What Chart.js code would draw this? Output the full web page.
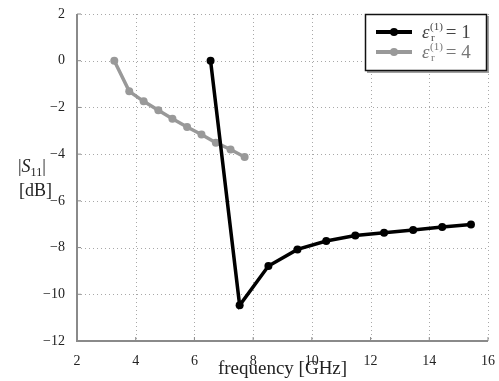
<!DOCTYPE html>
<html>
<head>
<meta charset="utf-8">
<script src="https://cdn.jsdelivr.net/npm/chart.js@4.4.1/dist/chart.umd.min.js"></script>
<style>
  html, body { margin: 0; padding: 0; background: #fff; }
  #wrap { width: 499px; height: 381px; position: relative; }
</style>
</head>
<body>
<div id="wrap"><canvas id="chart" width="499" height="381"></canvas></div>
<script>
// eps_r = 1
const freq1 = [6.55, 7.54, 8.52, 9.51, 10.49, 11.48, 12.46, 13.45, 14.44, 15.42];
const s11_1 = [0, -10.47, -8.79, -8.08, -7.72, -7.48, -7.37, -7.25, -7.12, -7.01];
// eps_r = 4
const freq4 = [3.27, 3.78, 4.27, 4.77, 5.25, 5.75, 6.24, 6.73, 7.23, 7.71];
const s11_4 = [0, -1.31, -1.74, -2.12, -2.48, -2.84, -3.16, -3.51, -3.80, -4.12];

const xTicks = [2, 4, 6, 8, 10, 12, 14, 16];
const yTicks = [2, 0, -2, -4, -6, -8, -10, -12];
const legendValues = ['1', '4'];

const SERIF = '"Liberation Serif", "DejaVu Serif", serif';
const colors = { s1: '#000000', s4: '#999999', axis: '#8a8a8a', grid: '#a8a8a8', text: '#222222' };

const toPoints = (xs, ys) => xs.map((x, i) => ({ x: x, y: ys[i] }));
const minus = v => String(v).replace('-', '\u2212');

// dotted grid + solid left/bottom axis lines
const axesLines = {
    id: 'axesLines',
    beforeDatasetsDraw(chart) {
        const a = chart.chartArea, ctx = chart.ctx;
        const sx = chart.scales.x, sy = chart.scales.y;
        ctx.save();

        ctx.strokeStyle = colors.grid;
        ctx.lineWidth = 1;
        ctx.setLineDash([1, 3]);
        ctx.beginPath();
        sx.ticks.forEach(t => {
            const px = Math.round(sx.getPixelForValue(t.value)) + 0.5;
            ctx.moveTo(px, a.top);
            ctx.lineTo(px, a.bottom);
        });
        sy.ticks.forEach(t => {
            const py = Math.round(sy.getPixelForValue(t.value)) + 0.5;
            ctx.moveTo(a.left, py);
            ctx.lineTo(a.right, py);
        });
        ctx.stroke();

        ctx.setLineDash([]);
        ctx.strokeStyle = colors.axis;
        ctx.lineWidth = 2;
        ctx.beginPath();
        ctx.moveTo(a.left, a.top);
        ctx.lineTo(a.left, a.bottom);
        ctx.lineTo(a.right, a.bottom);
        ctx.stroke();
        // small inward tick marks
        ctx.lineWidth = 1;
        ctx.beginPath();
        sx.ticks.forEach(t => {
            const px = sx.getPixelForValue(t.value);
            ctx.moveTo(px, a.bottom);
            ctx.lineTo(px, a.bottom - 4);
        });
        sy.ticks.forEach(t => {
            const py = sy.getPixelForValue(t.value);
            ctx.moveTo(a.left, py);
            ctx.lineTo(a.left + 4, py);
        });
        ctx.stroke();
        ctx.restore();
    }
};

// y label + legend drawn by hand, so they look like the figure
const annotations = {
    id: 'annotations',
    afterDraw(chart) {
        const ctx = chart.ctx;
        ctx.save();
        ctx.fillStyle = colors.text;
        ctx.textBaseline = 'alphabetic';

        // |S11|
        ctx.font = '18px ' + SERIF;
        let x = 18;
        ctx.fillText('|', x, 172); x += ctx.measureText('|').width;
        ctx.font = 'italic 18px ' + SERIF;
        ctx.fillText('S', x, 172); x += ctx.measureText('S').width;
        ctx.font = '12px ' + SERIF;
        ctx.fillText('11', x, 176); x += ctx.measureText('11').width;
        ctx.font = '18px ' + SERIF;
        ctx.fillText('|', x, 172);
        ctx.fillText('[dB]', 19, 196);

        // legend box with shadow
        const bx = 365, by = 14, bw = 121, bh = 56;
        ctx.fillStyle = '#a0a0a0';
        ctx.fillRect(bx + 2, by + 2, bw + 1, bh + 1);
        ctx.fillStyle = '#fff';
        ctx.fillRect(bx, by, bw, bh);
        ctx.strokeStyle = '#111';
        ctx.lineWidth = 1.5;
        ctx.strokeRect(bx + 0.5, by + 0.5, bw, bh);

        const rows = [
            { y: 32, color: colors.s1, text: '#444', val: legendValues[0] },
            { y: 52, color: colors.s4, text: '#777', val: legendValues[1] }
        ];
        rows.forEach(r => {
            ctx.strokeStyle = r.color;
            ctx.lineWidth = 4;
            ctx.beginPath();
            ctx.moveTo(376, r.y);
            ctx.lineTo(412, r.y);
            ctx.stroke();
            ctx.fillStyle = r.color;
            ctx.beginPath();
            ctx.arc(394, r.y, 4, 0, Math.PI * 2);
            ctx.fill();

            ctx.fillStyle = r.text;
            let tx = 422;
            ctx.font = 'italic 19px ' + SERIF;
            ctx.fillText('\u03b5', tx, r.y + 6);
            tx += ctx.measureText('\u03b5').width + 0.5;
            ctx.font = '11px ' + SERIF;
            ctx.fillText('(1)', tx, r.y - 2);
            ctx.fillText('r', tx + 1, r.y + 9);
            tx += ctx.measureText('(1)').width + 3;
            ctx.font = '19px ' + SERIF;
            ctx.fillText('= ' + r.val, tx, r.y + 6);
        });
        ctx.restore();
    }
};

new Chart(document.getElementById('chart').getContext('2d'), {
    type: 'line',
    data: {
        datasets: [
            {
                label: 'eps1',
                data: toPoints(freq1, s11_1),
                borderColor: colors.s1,
                backgroundColor: colors.s1,
                borderWidth: 3.5,
                pointRadius: 4,
                pointBorderWidth: 0,
                tension: 0
            },
            {
                label: 'eps4',
                data: toPoints(freq4, s11_4),
                borderColor: colors.s4,
                backgroundColor: colors.s4,
                borderWidth: 3.5,
                pointRadius: 4,
                pointBorderWidth: 0,
                tension: 0
            }
        ]
    },
    options: {
        responsive: false,
        animation: false,
        devicePixelRatio: 1,
        layout: { padding: { top: 14, right: 0, left: 0, bottom: 0 } },
        plugins: { legend: { display: false }, tooltip: { enabled: false } },
        scales: {
            x: {
                type: 'linear',
                min: 2, max: 16,
                afterBuildTicks: s => { s.ticks = xTicks.map(v => ({ value: v })); },
                afterFit: s => { s.height = 40; },
                border: { display: false },
                grid: { display: false },
                ticks: {
                    color: colors.text, padding: 4,
                    font: { family: SERIF, size: 14 },
                    callback: v => minus(v)
                },
                title: {
                    display: true, text: 'frequency [GHz]', color: colors.text,
                    font: { family: SERIF, size: 19 }, padding: { top: 0, bottom: 1 }
                }
            },
            y: {
                min: -12, max: 2,
                afterBuildTicks: s => { s.ticks = yTicks.map(v => ({ value: v })); },
                afterFit: s => { s.width = 77; },
                border: { display: false },
                grid: { display: false },
                ticks: {
                    color: colors.text, padding: 4,
                    font: { family: SERIF, size: 14 },
                    callback: v => minus(v)
                }
            }
        }
    },
    plugins: [axesLines, annotations]
});
</script>
</body>
</html>
